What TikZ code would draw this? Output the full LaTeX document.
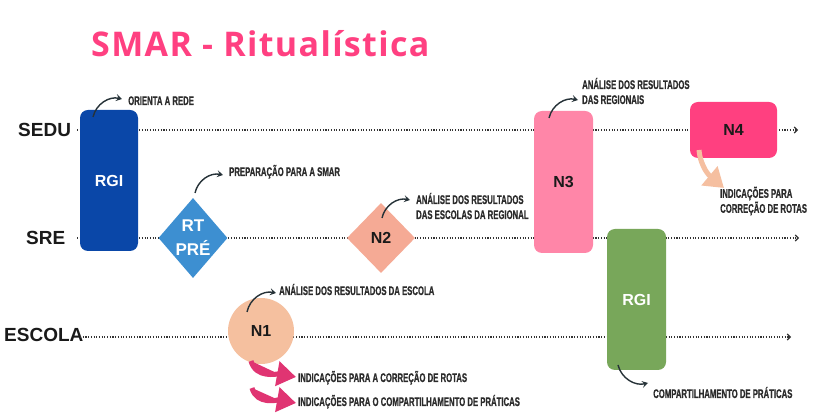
\documentclass[tikz,border=0pt]{standalone}
\usepackage{fontspec}
\setmainfont{Liberation Sans}
\newfontfamily\titlefont[LetterSpace=4]{Open Sans}
\newfontfamily\labfont[FakeStretch=0.62,FakeBold=0.6]{Liberation Sans}
\usetikzlibrary{shapes.geometric,arrows.meta,calc}
\definecolor{rgiblue}{HTML}{0A47A8}
\definecolor{rtblue}{HTML}{3D8FD1}
\definecolor{n2salmon}{HTML}{F5AA95}
\definecolor{n3pink}{HTML}{FF86A8}
\definecolor{n4pink}{HTML}{FF4080}
\definecolor{rgigreen}{HTML}{78A75A}
\definecolor{n1peach}{HTML}{F5C09F}
\definecolor{pinkarrow}{HTML}{E03472}
\definecolor{peacharrow}{HTML}{F5BFA0}
\definecolor{titlepink}{HTML}{FF4081}
\definecolor{lanegray}{HTML}{333333}
\definecolor{arrowdark}{HTML}{263238}
\definecolor{textdark}{HTML}{1A1A1A}
\definecolor{notegray}{HTML}{2B2B2B}
\begin{document}
\begin{tikzpicture}[x=1pt,y=1pt,
  lane/.style={draw=lanegray, line width=1.1pt, dash pattern=on 1.1pt off 1.6pt, -{Straight Barb[length=3pt,width=6pt]}},
  box/.style={rectangle, rounded corners=8pt, inner sep=0pt, font=\bfseries\fontsize{16}{18}\selectfont},
  dia/.style={diamond, inner sep=0pt},
  lanelab/.style={anchor=base west, inner sep=0pt, font=\bfseries\fontsize{19}{22}\selectfont, text=textdark},
  note/.style={font=\labfont\bfseries\fontsize{12.5}{15}\selectfont, text=notegray, inner sep=0pt, align=left},
  curvy/.style={draw=arrowdark, line width=1.4pt, -{Stealth[length=6pt,width=7pt,inset=2.5pt]}},
  fat/.style={line width=5pt, -{Triangle[length=19pt,width=24pt]}}
]
\useasboundingbox (0,0) rectangle (828,420);
\fill[white] (0,0) rectangle (828,420);

% title
\node[anchor=base west, inner sep=0pt, text=titlepink, font=\titlefont\bfseries\fontsize{34}{40}\selectfont] (title) at (91,363) {SMAR - Ritualística};

% lane labels
\node[lanelab] (sedu) at (18,283) {SEDU};
\node[lanelab] (sre) at (26,175) {SRE};
\node[lanelab] (escola) at (4,78) {ESCOLA};

% lanes
\coordinate (seduS) at (77,290);
\coordinate (seduE) at (798,290);
\coordinate (sreS) at (77,182);
\coordinate (sreE) at (799,182);
\coordinate (escS) at (80,83);
\coordinate (escE) at (791,83);
\draw[lane] (seduS) -- (seduE);
\draw[lane] (sreS) -- (sreE);
\draw[lane] (escS) -- (escE);

% nodes
\node[box, fill=rgiblue, text=white, minimum width=58pt, minimum height=141pt] (rgiA) at (109,239.5) {RGI};
\node[dia, fill=rtblue, minimum width=69pt, minimum height=80pt,
  label={[text=white, font=\bfseries\fontsize{17}{24}\selectfont, align=center]center:RT\\PRÉ}] (rt) at (193,182) {};
\node[dia, fill=n2salmon, text=textdark, font=\bfseries\fontsize{16}{18}\selectfont, minimum width=68pt, minimum height=70pt] (n2) at (381,182) {N2};
\node[box, fill=n3pink, text=textdark, minimum width=59pt, minimum height=142pt] (n3) at (563.5,238) {N3};
\node[box, fill=n4pink, text=textdark, minimum width=87pt, minimum height=56pt] (n4) at (733.5,290) {N4};
\node[box, fill=rgigreen, text=white, minimum width=59pt, minimum height=141pt] (rgiB) at (636.5,120.5) {RGI};
\node[circle, fill=n1peach, text=textdark, inner sep=0pt, minimum size=66pt, font=\bfseries\fontsize{16}{18}\selectfont] (n1) at (261,89) {N1};

% notes
\node[note, anchor=base west] (t1) at (128,315) {ORIENTA A REDE};
\node[note, anchor=base west] (t2) at (229,244) {PREPARAÇÃO PARA A SMAR};
\node[note, anchor=west] (t3) at (416,214) {ANÁLISE DOS RESULTADOS\\DAS ESCOLAS DA REGIONAL};
\node[note, anchor=west] (t4) at (582,329) {ANÁLISE DOS RESULTADOS\\DAS REGIONAIS};
\node[note, anchor=west] (t5) at (720,219) {INDICAÇÕES PARA\\CORREÇÃO DE ROTAS};
\node[note, anchor=base west] (t6) at (279,125) {ANÁLISE DOS RESULTADOS DA ESCOLA};
\node[note, anchor=base west] (t7) at (298,38) {INDICAÇÕES PARA A CORREÇÃO DE ROTAS};
\node[note, anchor=base west] (t8) at (298,14) {INDICAÇÕES PARA O COMPARTILHAMENTO DE PRÁTICAS};
\node[note, anchor=base west] (t9) at (653,22) {COMPARTILHAMENTO DE PRÁTICAS};

% curved thin arrows
\coordinate (a1s) at (93,303);  \coordinate (a1e) at (122,321);
\coordinate (a2s) at (195,227); \coordinate (a2e) at (223,245);
\coordinate (a3s) at (382,202); \coordinate (a3e) at (410,220);
\coordinate (a4s) at (549,302); \coordinate (a4e) at (578,320);
\coordinate (a5s) at (247,108); \coordinate (a5e) at (276,127);
\coordinate (a6s) at (618,55);  \coordinate (a6e) at (648,37);
\draw[curvy] (a1s) to[bend left=45] (a1e);
\draw[curvy] (a2s) to[bend left=45] (a2e);
\draw[curvy] (a3s) to[bend left=45] (a3e);
\draw[curvy] (a4s) to[bend left=45] (a4e);
\draw[curvy] (a5s) to[bend left=45] (a5e);
\draw[curvy] (a6s) to[bend right=45] (a6e);

% fat arrows
\coordinate (p1s) at (251,59); \coordinate (p1e) at (296,43);
\coordinate (p2s) at (252,32); \coordinate (p2e) at (296,17);
\coordinate (q1s) at (699,270); \coordinate (q1e) at (724,232);
\draw[fat, draw=pinkarrow, fill=pinkarrow] (p1s) to[out=-75,in=170] (p1e);
\draw[fat, draw=pinkarrow, fill=pinkarrow] (p2s) to[out=-75,in=170] (p2e);
\draw[fat, draw=peacharrow, fill=peacharrow] (q1s) to[out=-85,in=140] (q1e);
\end{tikzpicture}
\end{document}
